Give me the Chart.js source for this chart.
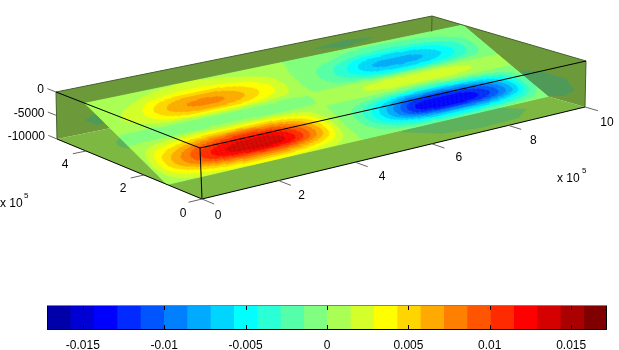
<!DOCTYPE html>
<html>
    <head>
        <meta charset="utf-8">
        <script src="https://cdnjs.cloudflare.com/ajax/libs/Chart.js/4.4.1/chart.umd.min.js"></script>
        <style>
            body { margin:0; background:#fff; }
            #box { position:absolute; left:0; top:0; }
            #bar { position:absolute; left:0; top:290px; }
        </style>
    </head>
    <body>
        <canvas id="box" width="619" height="350"></canvas>
        <canvas id="bar" width="619" height="60"></canvas>
    </body>
    <script>
        // axis ticks of the box (x and y in units of 1e5)
        const xTicks = [0, 2, 4, 6, 8, 10]
        const yTicks = [0, 2, 4]
        const zTicks = [0, -5000, -10000]
        const barTicks = [-0.015, -0.01, -0.005, 0, 0.005, 0.01, 0.015]
        const barLimits = [-0.0172, 0.0172]

        // jet(24), one colour for each contour band
        const bandColors = [
            '#0000aa', '#0000d5', '#0000ff', '#002aff', '#0055ff', '#0080ff',
            '#00aaff', '#00d5ff', '#00ffff', '#2affd5', '#55ffaa', '#80ff80',
            '#aaff55', '#d5ff2a', '#ffff00', '#ffd500', '#ffaa00', '#ff8000',
            '#ff5500', '#ff2a00', '#ff0000', '#d50000', '#aa0000', '#800000'
        ]

        // slice values (1e-3)
        // rows: bottom edge to top edge of the slice, columns: x = 0 .. 10 (1e5)
        const sliceValues = [
            [ .1, 1, 1.6, 2.2, 2.6, 2.8, 2.8, 2.6, 2, 1.2,  .1, -.2, -.5, -1, -1.4, -1.6, -1.6, -1.4, -1.1, -.6, -.1],
            [ .6, 2.7, 4.4, 5.9, 6.9, 7.5, 7.5, 6.9, 5.4, 3.2,  .4, -.8, -2.5, -4.6, -6.4, -7, -7, -6.7, -5.5, -3.5, -.9],
            [1, 4.6, 7.5, 10.3, 12.2, 13.1, 13.2, 12.4, 9.5, 5.4,  .6, -1.5, -4.6, -8.4, -12.2, -13.3, -13.3, -12.6, -10.4, -6.6, -1.6],
            [1, 4.8, 7.7, 10.5, 12.4, 13.3, 13.4, 12.6, 9.7, 5.5,  .7, -1.6, -4.8, -8.6, -12.4, -13.5, -13.5, -12.8, -10.5, -6.7, -1.7],
            [ .7, 3.5, 5.7, 7.6, 9, 9.8, 9.8, 9, 7.1, 4.1,  .5, -1.1, -3.2, -5.9, -8.3, -9, -9, -8.5, -7, -4.5, -1.1],
            [ .3, 1.5, 2.4, 3.3, 3.9, 4.2, 4.2, 3.9, 3, 1.8,  .2, -.3, -.7, -1.3, -2, -2.2, -2.2, -2, -1.5, -.8, -.2],
            [-.2, -.3, -.4, -.5, -.6, -.6, -.6, -.6, -.5, -.3, 0,  .4,  .9, 1.5, 2, 2.2, 2.2, 2, 1.5,  .8,  .2],
            [-.1, -.2, -.2, -.3, -.4, -.4, -.4, -.4, -.3, -.2, 0,  .2,  .5,  .9, 1.1, 1.2, 1.2, 1.1,  .8,  .4,  .1],
            [ .4, 1, 1.9, 3.5, 4.7, 5.2, 5.1, 4.4, 3.1, 1.9,  .3, -.6, -1.7, -3, -4.5, -5, -5, -4.5, -3.4, -1.9, -.4],
            [ .6, 1.5, 2.7, 5.1, 6.8, 7.5, 7.4, 6.3, 4.5, 2.7,  .4, -.9, -2.5, -4.6, -6.9, -7.7, -7.7, -6.9, -5.2, -2.9, -.6],
            [ .5, 1.2, 2.2, 4.2, 5.6, 6.2, 6.1, 5.2, 3.7, 2.2,  .3, -.8, -2.1, -3.8, -5.7, -6.3, -6.3, -5.7, -4.3, -2.4, -.5],
            [ .2,  .6, 1.1, 2, 2.7, 3, 2.9, 2.5, 1.8, 1.1,  .2, -.3, -1, -1.7, -2.6, -2.9, -2.9, -2.6, -2, -1.1, -.2],
            [ .1,  .3,  .5, 1, 1.3, 1.4, 1.4, 1.2,  .8,  .5,  .1, -.1, -.4, -.7, -1, -1.1, -1.1, -1, -.7, -.4, -.1]
        ]

        // faint contours seen on the walls, [x, y, z]
        const backSpotA = [[0.75,5,-7200], [1.05,5,-6100], [1.6,5,-6500], [1.6,5,-8500], [1.05,5,-8700]]
        const backSpotB = [[6.83,5,-1900], [7.69,5,-1360], [8.48,5,-2000], [7.69,5,-2900]]
        const rightSpot = [[10,2.12,-6100], [10,1.47,-5060], [10,.66,-5000], [10,.34,-7000], [10,.66,-8900], [10,1.15,-9870], [10,1.8,-8740]]
        const floorSpotA = [[6.07,1.09,-10000], [6.62,.43,-10000], [7.52,.24,-10000], [8.5,.3,-10000], [9.06,.72,-10000], [8.5,1.5,-10000], [7.5,1.9,-10000], [6.6,1.6,-10000]]
        const floorSpotB = [[.9,4.15,-10000], [1.12,4.3,-10000], [1.29,4.26,-10000], [.91,3.55,-10000], [.8,3.72,-10000], [.79,3.9,-10000]]

        // slice plane: y at its bottom edge and at its top edge
        const sliceY = [1.2, 4]
        const sliceZ = [-10000, 0]

        // where the 8 box corners land in the picture [x][y][z] (index 0 = low, 1 = high)
        const view = {
            '000': [202, 199], '001': [200, 148],
            '010': [57, 139],  '011': [56, 92],
            '100': [585, 107], '101': [586, 61],
            '110': [431, 63],  '111': [432, 16]
        }

        // box coordinates -> point on the chart's x/y scales
        const project = (x, y, z) => {
            const a = x / 10, b = y / 5, c = (z + 10000) / 10000
            const pt = {x:0, y:0}
            for (const i of [0, 1]) for (const j of [0, 1]) for (const k of [0, 1]) {
                const w = (i ? a : 1 - a) * (j ? b : 1 - b) * (k ? c : 1 - c)
                const p = view['' + i + j + k]
                pt.x += w * p[0]
                pt.y += w * p[1]
            }
            return pt
        }
        const ring = (spot) => {
            const pts = spot.map(p => project(p[0], p[1], p[2]))
            pts.push(pts[0])
            return pts
        }
        const poly = (corners, color, order) => ({
            data: ring(corners), showLine:true, fill:'shape', backgroundColor:color,
            borderWidth:0, pointRadius:0, order:order
        })
        const lines = (pairs, color, width, order) => {
            const data = []
            pairs.forEach(p => {
                data.push(project(p[0][0], p[0][1], p[0][2]), project(p[1][0], p[1][1], p[1][2]), {x:null, y:null})
            })
            return {data:data, showLine:true, spanGaps:false, borderColor:color, borderWidth:width, pointRadius:0, fill:false, order:order}
        }

        const BOT = -10000
        const sliceCorners = [
            [0, sliceY[0], sliceZ[0]], [10, sliceY[0], sliceZ[0]],
            [10, sliceY[1], sliceZ[1]], [0, sliceY[1], sliceZ[1]]
        ]
        const sliceSet = poly(sliceCorners, '#aaff55', 5)
        sliceSet.isSlice = true

        const datasets = [
            poly([[0,5,0], [10,5,0], [10,5,BOT], [0,5,BOT]], '#6c9a3b', 10),
            poly([[10,5,0], [10,0,0], [10,0,BOT], [10,5,BOT]], '#6c9a3b', 10),
            poly([[0,0,BOT], [10,0,BOT], [10,5,BOT], [0,5,BOT]], '#7db843', 9),
            poly(backSpotA, '#4f9a58', 8),
            poly(backSpotB, '#4f9a58', 8),
            poly(rightSpot, '#4f9a58', 8),
            poly(floorSpotA, '#5eb25e', 8),
            poly(floorSpotB, '#5eb25e', 8),
            sliceSet,
            // back edges of the box
            lines([[[0,5,0], [10,5,0]], [[10,5,0], [10,0,0]], [[10,5,0], [10,5,-3300]],
                   [[0,5,0], [0,5,BOT]], [[10,0,0], [10,0,BOT]]], '#43602a', 1, 4),
            // front edges
            lines([[[0,5,0], [0,0,0]], [[0,0,0], [10,0,0]], [[0,0,0], [0,0,BOT]],
                   [[0,5,BOT], [0,0,BOT]], [[0,0,BOT], [10,0,BOT]]], '#000000', 1, 3),
            // tick marks
            lines(xTicks.map(v => [[v,0,BOT], [v,-.42,BOT]])
                .concat(yTicks.map(v => [[0,v,BOT], [-.35,v,BOT]]))
                .concat(zTicks.map(v => [[0,5,v], [0,5.3,v]])), '#666666', 1, 2)
        ]

        // draws the slice: the value table is contoured into the jet bands
        const catmull = (p0, p1, p2, p3, t) =>
            p1 + .5 * t * (p2 - p0 + t * (2 * p0 - 5 * p1 + 4 * p2 - p3 + t * (3 * (p1 - p2) + p3 - p0)))
        const sliceValueAt = (fu, fs) => {
            const cols = sliceValues[0].length - 1, rows = sliceValues.length - 1
            const cu = Math.min(Math.floor(fu * cols), cols - 1), cs = Math.min(Math.floor(fs * rows), rows - 1)
            const tu = fu * cols - cu, ts = fs * rows - cs
            const rowAt = (r) => {
                const row = sliceValues[Math.max(0, Math.min(rows, r))]
                return catmull(row[Math.max(0, cu - 1)], row[cu], row[cu + 1], row[Math.min(cols, cu + 2)], tu)
            }
            return catmull(rowAt(cs - 1), rowAt(cs), rowAt(cs + 1), rowAt(cs + 2), ts)
        }
        const bandOf = (v) => {
            const n = bandColors.length
            const i = Math.floor((v * 1e-3 - barLimits[0]) / (barLimits[1] - barLimits[0]) * n)
            return Math.max(0, Math.min(n - 1, i))
        }
        const slicePlugin = {
            id:'slice',
            afterDatasetDraw(chart, args) {
                if (!chart.data.datasets[args.index].isSlice) return
                const {ctx, scales} = chart
                const px = (p) => [scales.x.getPixelForValue(p.x), scales.y.getPixelForValue(p.y)]
                const at = (fu, fs) => px(project(fu * 10, sliceY[0] + fs * (sliceY[1] - sliceY[0]), sliceZ[0] + fs * (sliceZ[1] - sliceZ[0])))
                const NU = 400, NS = 90
                ctx.save()
                ctx.lineWidth = .6
                for (let j = 0; j < NS; j++) {
                    let start = 0
                    let band = bandOf(sliceValueAt(.5 / NU, (j + .5) / NS))
                    for (let i = 1; i <= NU; i++) {
                        const b = i < NU ? bandOf(sliceValueAt((i + .5) / NU, (j + .5) / NS)) : -1
                        if (b === band) continue
                        const q = [at(start / NU, j / NS), at(i / NU, j / NS), at(i / NU, (j + 1) / NS), at(start / NU, (j + 1) / NS)]
                        ctx.beginPath()
                        q.forEach((c, n) => n ? ctx.lineTo(c[0], c[1]) : ctx.moveTo(c[0], c[1]))
                        ctx.closePath()
                        ctx.fillStyle = ctx.strokeStyle = bandColors[band]
                        ctx.fill()
                        ctx.stroke()
                        start = i
                        band = b
                    }
                }
                ctx.restore()
            },
            afterDraw(chart) {
                const {ctx, scales} = chart
                const put = (text, p, dx, dy, align) => {
                    ctx.textAlign = align || 'center'
                    ctx.fillText(text, scales.x.getPixelForValue(p.x) + dx, scales.y.getPixelForValue(p.y) + dy)
                }
                ctx.save()
                ctx.fillStyle = '#000'
                ctx.font = '12px "Liberation Sans"'
                ctx.textBaseline = 'middle'
                const xOff = [[16,17], [23,15], [27,14], [27,14], [25,15], [22,16]]
                xTicks.forEach((v, i) => put(v, project(v,0,BOT), xOff[i][0], xOff[i][1]))
                yTicks.forEach(v => put(v, project(0,v,BOT), v === 0 ? -19 : -21, v === 0 ? 15 : 14))
                zTicks.forEach(v => put(v, project(0,5,v), -12, -2, 'right'))
                // axis multipliers
                ctx.textAlign = 'left'
                ctx.fillText('x 10', 0, 204)
                ctx.fillText('x 10', 557, 179)
                ctx.font = '8px "Liberation Sans"'
                ctx.fillText('5', 24, 196)
                ctx.fillText('5', 582, 171)
                ctx.restore()
            }
        }

        const boxChart = new Chart(document.getElementById('box'), {
            type:'scatter',
            data:{datasets:datasets},
            options:{
                responsive:false,
                animation:false,
                layout:{padding:0},
                plugins:{legend:{display:false}, tooltip:{enabled:false}},
                scales:{
                    x:{type:'linear', min:0, max:619, display:false},
                    y:{type:'linear', min:0, max:350, reverse:true, display:false}
                }
            },
            plugins:[slicePlugin]
        })

        // colorbar
        const bandStep = (barLimits[1] - barLimits[0]) / bandColors.length
        const framePlugin = {
            id:'frame',
            afterDraw(chart) {
                const {ctx, chartArea:a, scales} = chart
                ctx.save()
                ctx.lineWidth = 1
                ctx.strokeStyle = '#000'
                ctx.beginPath()
                ctx.moveTo(a.left + .5, a.top); ctx.lineTo(a.left + .5, a.bottom - .5)
                ctx.lineTo(a.right - .5, a.bottom - .5); ctx.lineTo(a.right - .5, a.top)
                barTicks.forEach(v => {
                    const x = Math.round(scales.x.getPixelForValue(v)) + .5
                    ctx.moveTo(x, a.top); ctx.lineTo(x, a.top + 5)
                    ctx.moveTo(x, a.bottom); ctx.lineTo(x, a.bottom - 5)
                })
                ctx.stroke()
                ctx.strokeStyle = '#808080'
                ctx.beginPath()
                ctx.moveTo(a.left, a.top + .5); ctx.lineTo(a.right, a.top + .5)
                ctx.stroke()
                ctx.restore()
            }
        }
        const barChart = new Chart(document.getElementById('bar'), {
            type:'bar',
            data:{
                labels:['value'],
                datasets:bandColors.map((c, i) => ({
                    data:[[barLimits[0] + i * bandStep, barLimits[0] + (i + 1) * bandStep]],
                    backgroundColor:c, borderWidth:0, grouped:false,
                    barPercentage:1, categoryPercentage:1
                }))
            },
            options:{
                responsive:false,
                animation:false,
                indexAxis:'y',
                layout:{padding:{left:47, right:12, top:15, bottom:0}},
                plugins:{legend:{display:false}, tooltip:{enabled:false}},
                scales:{
                    y:{display:false},
                    x:{
                        type:'linear', min:barLimits[0], max:barLimits[1],
                        grid:{display:false, drawTicks:false}, border:{display:false},
                        afterBuildTicks:(s) => { s.ticks = barTicks.map(v => ({value:v})) },
                        afterFit:(s) => { s.height = 20 },
                        ticks:{
                            autoSkip:false, maxRotation:0, padding:8, color:'#000',
                            font:{family:'"Liberation Sans"', size:12},
                            callback:(v) => String(v)
                        }
                    }
                }
            },
            plugins:[framePlugin]
        })
    </script>
</html>
